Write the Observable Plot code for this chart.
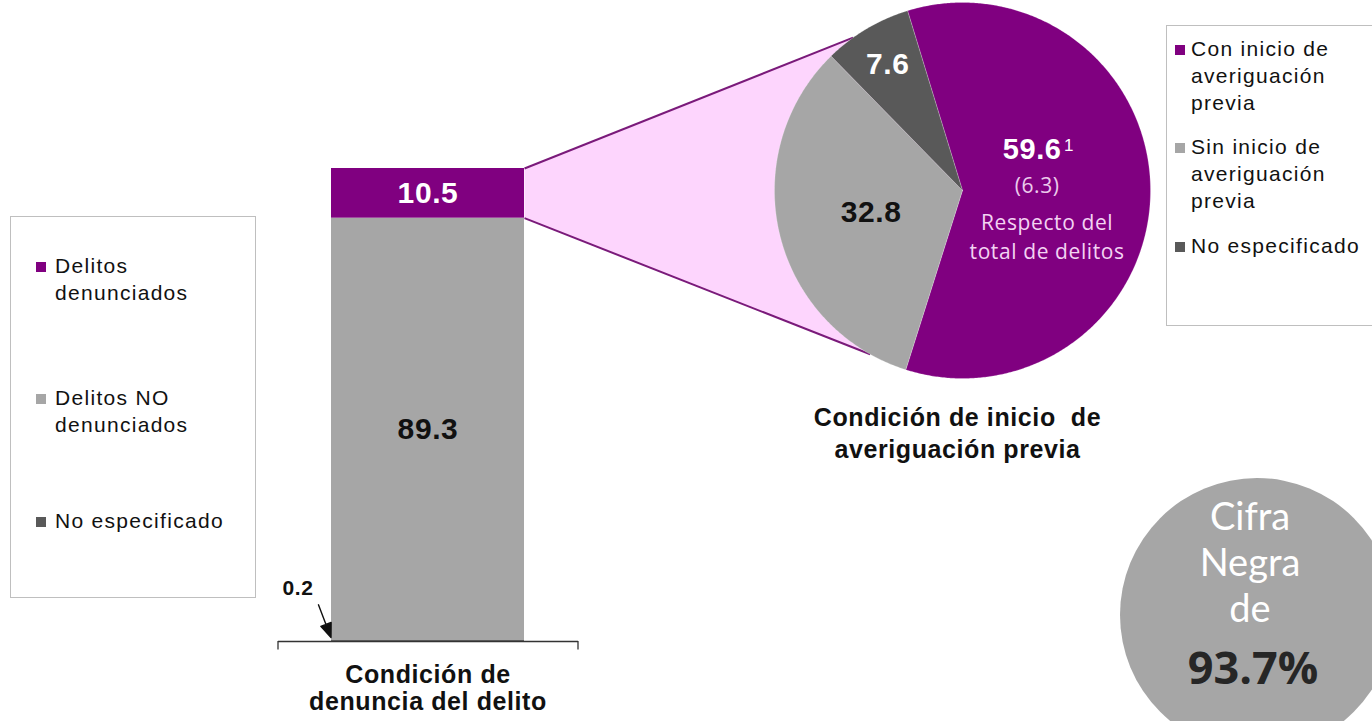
<!DOCTYPE html>
<html>
<head>
<meta charset="utf-8">
<script src="https://cdn.jsdelivr.net/npm/d3@7"></script>
<script src="https://cdn.jsdelivr.net/npm/@observablehq/plot@0.6"></script>
<style>
html,body{margin:0;padding:0;background:#fff;}
#chart{position:relative;width:1372px;height:721px;overflow:hidden;background:#fff;font-family:"Liberation Sans",Arial,sans-serif;}
#chart svg.layer{position:absolute;left:0;top:0;}
.lbox{position:absolute;border:1px solid #bfbfbf;box-sizing:border-box;background:#fff;}
.litem{position:absolute;font-size:21px;line-height:27px;letter-spacing:1.3px;color:#111;max-width:185px;}
.lsq{position:absolute;width:10px;height:10px;}
.spaced text{letter-spacing:0.6px;}
</style>
</head>
<body>
<div id="chart"></div>
<script>
// ---------- data ----------
const barCategory = "Condición de denuncia del delito";
const barTitle = "Condición de\ndenuncia del delito";
const barCats = ["No especificado", "Delitos NO denunciados", "Delitos denunciados"]; // stacked bottom -> top
const barValues = [0.2, 89.3, 10.5];
const barLegendOrder = ["Delitos denunciados", "Delitos NO denunciados", "No especificado"];

const pieCats = ["Con inicio de averiguación previa", "Sin inicio de averiguación previa", "No especificado"];
const pieValues = [59.6, 32.8, 7.6];
const pieShareOfTotal = 6.3;
const pieNote = "Respecto del\ntotal de delitos";
const pieFootnote = "1";
const pieTitle = "Condición de inicio  de\naveriguación previa";

const cifraLines = ["Cifra", "Negra", "de"];
const cifraNegra = 93.7;

// ---------- styles ----------
const barColors = ["#595959", "#a6a6a6", "#800080"];
const pieColors = ["#800080", "#a6a6a6", "#595959"];
const pink = "#fdd5fd";
const connectorColor = "#7a1a7a";
const font = "Liberation Sans, Arial, sans-serif";

const chart = document.getElementById("chart");

// ---------- stacked bar ----------
const barData = barCats.map((c, i) => ({cat: barCategory, name: c, value: barValues[i]}));
const arrowShape = {
  draw(ctx, l) {
    ctx.moveTo(0, 0);
    ctx.lineTo(0, -l + 10);
    ctx.moveTo(0, -l);
    ctx.lineTo(-5.5, -l + 14);
    ctx.lineTo(5.5, -l + 14);
    ctx.closePath();
  }
};
const barPlot = Plot.plot({
  width: 1372, height: 721,
  marginLeft: 278, marginRight: 794, marginTop: 168, marginBottom: 80,
  x: {type: "band", domain: [barCategory], padding: 0.2146, axis: null},
  y: {domain: [0, 100], axis: null},
  color: {domain: barCats, range: barColors},
  style: {background: "transparent", overflow: "visible"},
  marks: [
    Plot.barY(barData, {x: "cat", y: "value", fill: "name"}),
    Plot.ruleY([0], {stroke: "#333", strokeWidth: 1.3}),
    Plot.ruleX([barCategory], {x: d => d, dx: -150, y1: 0, y2: -1.8, stroke: "#333", strokeWidth: 1.3}),
    Plot.ruleX([barCategory], {x: d => d, dx: 150, y1: 0, y2: -1.8, stroke: "#333", strokeWidth: 1.3}),
    Plot.text(barData, Plot.stackY({x: "cat", y: "value",
      text: d => d.name === barCats[2] ? d.value.toFixed(1) : "",
      fill: "white", fontSize: 30, fontWeight: "bold", fontFamily: font})),
    Plot.text(barData, Plot.stackY({x: "cat", y: "value",
      text: d => d.name === barCats[1] ? d.value.toFixed(1) : "",
      fill: "#111", fontSize: 30, fontWeight: "bold", fontFamily: font})),
    Plot.text([barData[0]], {x: "cat", y: 0, dx: -130, dy: -53, text: d => d.value.toFixed(1),
      fill: "#111", fontSize: 21, fontWeight: "bold", fontFamily: font}),
    Plot.vector([barData[0]], {x: "cat", y: 0, dx: -97, dy: -4, length: 35, rotate: 159, anchor: "end",
      shape: arrowShape, stroke: "#111", fill: "#111", strokeWidth: 1.4}),
    Plot.text([barTitle], {x: () => barCategory, y: 0, dy: 46, text: d => d, lineHeight: 1.1,
      fill: "#111", fontSize: 25, fontWeight: "bold", fontFamily: font})
  ]
});
barPlot.classList.add("layer", "spaced");
chart.appendChild(barPlot);

// ---------- pie ----------
const cx = 962, cy = 190, R = 188;
const pieXOpt = {domain: [-1, 1], range: [cx - R, cx + R]};
const pieYOpt = {domain: [-1, 1], range: [cy + R, cy - R]};
const psx = Plot.scale({x: pieXOpt});
const psy = Plot.scale({y: pieYOpt});
const start = -17 * Math.PI / 180;
const arcs = d3.pie().sort(null).startAngle(start).endAngle(start + 2 * Math.PI)(pieValues);

function slicePts(a, i) {
  const pts = [{x: 0, y: 0, s: i}];
  const n = Math.ceil((a.endAngle - a.startAngle) / (Math.PI / 360));
  for (let k = 0; k <= n; k++) {
    const t = a.startAngle + (a.endAngle - a.startAngle) * k / n;
    pts.push({x: Math.sin(t), y: Math.cos(t), s: i});
  }
  pts.push({x: 0, y: 0, s: i});
  return pts;
}
const polar = (deg, r = 1) => ({x: r * Math.sin(deg * Math.PI / 180), y: r * Math.cos(deg * Math.PI / 180)});
const labelR = [0.45, 0.5, 0.78];
const labelPos = arcs.map((a, i) => {
  const m = (a.startAngle + a.endAngle) / 2;
  return {x: labelR[i] * Math.sin(m), y: labelR[i] * Math.cos(m), v: pieValues[i]};
});

// connector from bar's "Delitos denunciados" segment to the pie
const bx = barPlot.scale("x"), by = barPlot.scale("y");
const barRight = bx.apply(barCategory) + bx.bandwidth;
const topVal = d3.sum(barValues);
const barTop = {x: psx.invert(barRight), y: psy.invert(by.apply(topVal))};
const barBot = {x: psx.invert(barRight), y: psy.invert(by.apply(topVal - barValues[2]))};
const upEnd = polar(324.4), lowEnd = polar(209.4);
const wedge = [barTop, upEnd, {x: 0, y: 0}, lowEnd, barBot];

const pieMarks = [
  Plot.line(wedge, {x: "x", y: "y", fill: pink, stroke: "none"}),
  Plot.link([[barTop, upEnd], [barBot, lowEnd]], {x1: d => d[0].x, y1: d => d[0].y, x2: d => d[1].x, y2: d => d[1].y,
    stroke: connectorColor, strokeWidth: 2})
];
arcs.forEach((a, i) => {
  pieMarks.push(Plot.line(slicePts(a, i), {x: "x", y: "y", fill: pieColors[i], stroke: "#ffffff", strokeOpacity: 0.35, strokeWidth: 0.6}));
});
pieMarks.push(
  Plot.text([labelPos[2]], {x: "x", y: "y", text: d => d.v.toFixed(1), fill: "white", fontSize: 30, fontWeight: "bold", fontFamily: font}),
  Plot.text([labelPos[1]], {x: "x", y: "y", text: d => d.v.toFixed(1), fill: "#111", fontSize: 30, fontWeight: "bold", fontFamily: font}),
  Plot.text([labelPos[0]], {x: "x", y: "y", dx: -15, dy: -41, text: d => d.v.toFixed(1), fill: "white", fontSize: 29, fontWeight: "bold", fontFamily: font}),
  Plot.text([labelPos[0]], {x: "x", y: "y", dx: 22, dy: -45, text: () => pieFootnote, fill: "white", fontSize: 17, fontFamily: font}),
  Plot.text([labelPos[0]], {x: "x", y: "y", dx: -10, dy: -5, text: () => `(${pieShareOfTotal.toFixed(1)})`, fill: "#eccbec", fontSize: 21, fontFamily: "Open Sans, sans-serif"}),
  Plot.text([labelPos[0]], {x: "x", y: "y", dx: 0, dy: 44, text: () => pieNote, lineHeight: 1.4, fill: "#f3d3f3", fontSize: 21, fontFamily: "Open Sans, sans-serif"}),
  Plot.text([pieTitle], {x: () => 0, y: () => -1, dx: -5, dy: 53, text: d => d, lineHeight: 1.28,
    fill: "#111", fontSize: 25, fontWeight: "bold", fontFamily: font})
);
const piePlot = Plot.plot({
  width: 1372, height: 721, margin: 0,
  x: {...pieXOpt, axis: null},
  y: {...pieYOpt, axis: null},
  style: {background: "transparent", overflow: "visible"},
  marks: pieMarks
});
piePlot.classList.add("layer", "spaced");
chart.appendChild(piePlot);

// ---------- legends ----------
function legend(box, items) {
  const b = document.createElement("div");
  b.className = "lbox";
  Object.assign(b.style, {left: box.left + "px", top: box.top + "px", width: box.width + "px", height: box.height + "px"});
  chart.appendChild(b);
  items.forEach(it => {
    const sq = document.createElement("div");
    sq.className = "lsq";
    Object.assign(sq.style, {left: box.sqLeft + "px", top: (it.top + 10) + "px", background: it.color});
    chart.appendChild(sq);
    const t = document.createElement("div");
    t.className = "litem";
    t.textContent = it.label;
    Object.assign(t.style, {left: box.textLeft + "px", top: it.top + "px"});
    chart.appendChild(t);
  });
}
const barItemTops = [252, 384, 507];
legend({left: 10, top: 216, width: 246, height: 382, sqLeft: 36, textLeft: 55},
  barLegendOrder.map((c, i) => ({label: c, color: barColors[barCats.indexOf(c)], top: barItemTops[i]})));
const pieItemTops = [35, 133, 232];
legend({left: 1166, top: 25, width: 240, height: 301, sqLeft: 1175, textLeft: 1191},
  pieCats.map((c, i) => ({label: c, color: pieColors[i], top: pieItemTops[i]})));

// ---------- Cifra negra badge ----------
const badge = d3.create("svg").attr("class", "layer").attr("width", 1372).attr("height", 721);
badge.append("circle").attr("cx", 1257).attr("cy", 615).attr("r", 137).attr("fill", "#a6a6a6");
const baselines = [530, 576, 622];
cifraLines.forEach((s, i) => {
  badge.append("text").attr("x", 1250).attr("y", baselines[i]).attr("text-anchor", "middle")
    .attr("font-family", "Lato, sans-serif").attr("font-size", 38).attr("fill", "#fff").text(s);
});
badge.append("text").attr("x", 1253).attr("y", 684).attr("text-anchor", "middle")
  .attr("font-family", "Open Sans, sans-serif").attr("font-weight", "bold").attr("font-size", 45)
  .attr("fill", "#262626").text(cifraNegra.toFixed(1) + "%");
chart.appendChild(badge.node());
</script>
</body>
</html>
